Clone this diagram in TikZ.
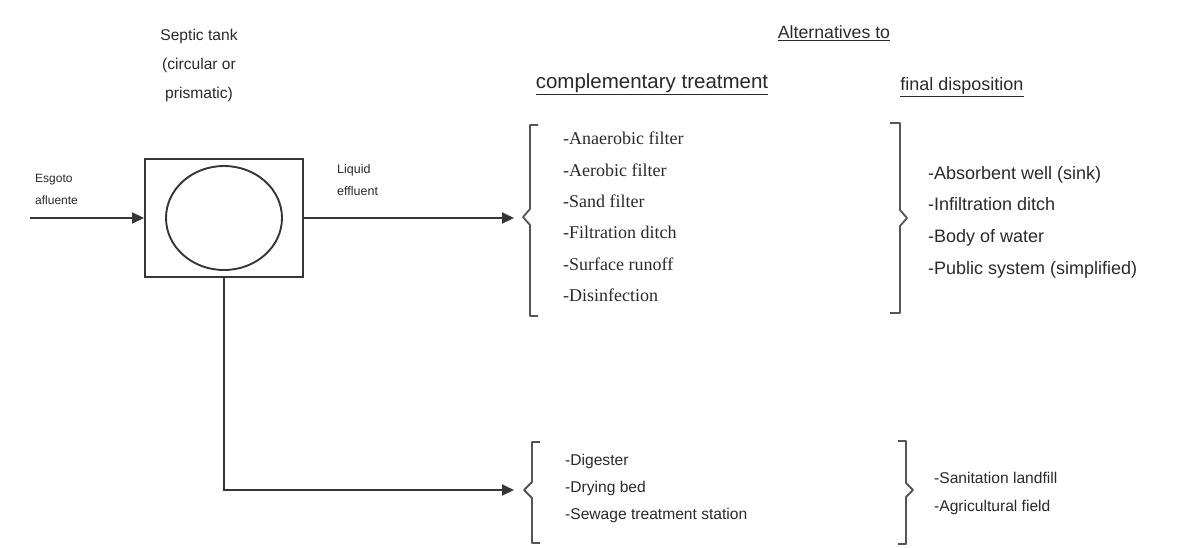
\documentclass[tikz,border=0pt]{standalone}
\usepackage{fontspec}
\setmainfont{Liberation Sans}
\newfontfamily\seriffont{Liberation Serif}
\usetikzlibrary{arrows.meta,shapes.geometric}
\definecolor{ln}{HTML}{363636}
\definecolor{brk}{HTML}{555555}
\definecolor{txt}{HTML}{2A2A2A}
\tikzset{
  line/.style={draw=ln, line width=1.9pt},
  arr/.style={line, -{Triangle[length=12pt,width=11pt]}},
  brace/.style={draw=brk, line width=1.8pt, line join=round},
  lbl/.style={inner sep=0pt, text=txt},
  heading/.style={lbl, anchor=center},
  list/.style={lbl, anchor=west, align=left},
}
\begin{document}
\begin{tikzpicture}[x=1pt,y=-1pt]
\useasboundingbox[fill=white] (0,0) rectangle (1181,547);

% headings
\node[heading, align=center, font=\fontsize{15.6}{29}\selectfont] (septic) at (199,65) {Septic tank\\(circular or\\prismatic)};
\node[heading, font=\fontsize{17.7}{20}\selectfont] (alt) at (834,33) {\underline{Alternatives to}};
\node[heading, font=\fontsize{20.5}{22}\selectfont] (comp) at (652,84) {\underline{complementary treatment}};
\node[heading, font=\fontsize{18}{20}\selectfont] (fin) at (962,87) {\underline{final disposition}};

% tank
\node[line, minimum width=158pt, minimum height=118pt, inner sep=0pt] (tank) at (224,218) {};
\node[line, ellipse, minimum width=116pt, minimum height=104pt, inner sep=0pt] (circ) at (tank.center) {};

% flow labels
\node[lbl, anchor=west, align=left, font=\fontsize{12}{22}\selectfont] (esg) at (35,189) {Esgoto\\afluente};
\node[lbl, anchor=west, align=left, font=\fontsize{12.5}{22}\selectfont] (liq) at (337,180) {Liquid\\effluent};

% connectors
\coordinate (inflow) at (30,218);
\coordinate (tip1) at (514,218);
\coordinate (tip2) at (514,490);
\draw[arr] (inflow) -- (tank.west);
\draw[arr] (tank.east) -- (tip1);
\draw[arr] (tank.south) |- (tip2);

% brackets
\draw[brace] (538,125) -- (530,125) -- (530,209) -- (523,217) -- (530,225) -- (530,316) -- (538,316);
\draw[brace] (890,123) -- (900,123) -- (900,210) -- (907,218) -- (900,226) -- (900,313) -- (890,313);
\draw[brace] (540,442) -- (532,442) -- (532,482) -- (524,490) -- (532,498) -- (532,543) -- (540,543);
\draw[brace] (898,441) -- (906,441) -- (906,483) -- (913,490) -- (906,497) -- (906,544) -- (898,544);

% lists
\node[list, font=\seriffont\fontsize{18}{31.4}\selectfont] (ctlist) at (563,217)
  {-Anaerobic filter\\-Aerobic filter\\-Sand filter\\-Filtration ditch\\-Surface runoff\\-Disinfection};
\node[list, font=\fontsize{18}{31.7}\selectfont] (fdlist) at (928,222)
  {-Absorbent well (sink)\\-Infiltration ditch\\-Body of water\\-Public system (simplified)};
\node[list, font=\fontsize{15.6}{27}\selectfont] (sllist) at (565,488)
  {-Digester\\-Drying bed\\-Sewage treatment station};
\node[list, font=\fontsize{15.6}{28}\selectfont] (sdlist) at (934,493)
  {-Sanitation landfill\\-Agricultural field};
\end{tikzpicture}
\end{document}
